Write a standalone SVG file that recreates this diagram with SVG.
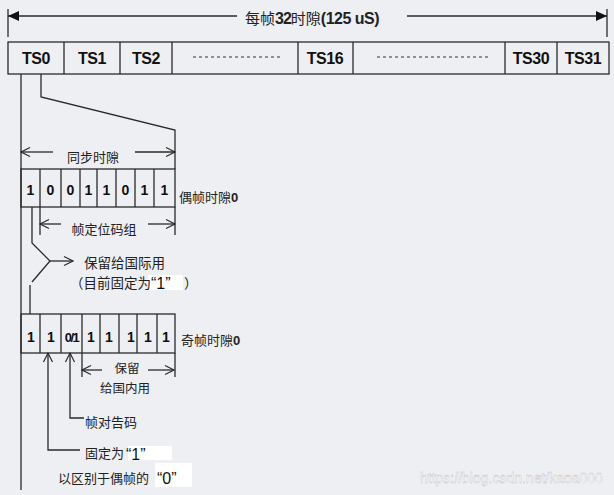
<svg xmlns="http://www.w3.org/2000/svg" width="614" height="495" viewBox="0 0 614 495">
<style>
.bg{fill:#eeeff3}
.ln{stroke:#2a2a2a;stroke-width:1.3;fill:none}
.box{fill:none;stroke:#2a2a2a;stroke-width:1.3}
.ts{font-family:"Liberation Sans",Arial,sans-serif;font-weight:bold;font-size:16px;fill:#111;text-anchor:middle;letter-spacing:-0.4px}
.bit{font-family:"Liberation Sans",Arial,sans-serif;font-weight:bold;font-size:14px;fill:#111;text-anchor:middle}
.cn{font-family:"Noto Sans CJK SC","Liberation Sans",sans-serif;font-size:13px;fill:#222}
.q{font-family:"Liberation Sans",Arial,sans-serif;font-size:16px;fill:#111}
.hl{fill:#ffffff}
.dash{stroke:#333;stroke-width:1;stroke-dasharray:3 3}
</style>
<defs>
<marker id="open" viewBox="-10 -6 11 12" markerWidth="11" markerHeight="12" refX="0" refY="0" orient="auto" markerUnits="userSpaceOnUse" overflow="visible">
<path d="M-9,-4.5 L0,0 L-9,4.5" fill="none" stroke="#2a2a2a" stroke-width="1.2"/>
</marker>
<marker id="solid" viewBox="-11 -6 12 12" markerWidth="12" markerHeight="12" refX="0" refY="0" orient="auto" markerUnits="userSpaceOnUse" overflow="visible">
<path d="M-11,-5 L0,0 L-11,5 Z" fill="#111"/>
</marker>
</defs>
<rect class="bg" x="0" y="0" width="614" height="495"/>

<g id="connectors">
<line class="ln" x1="8" y1="9" x2="8" y2="37"/>
<line class="ln" x1="607" y1="9" x2="607" y2="37"/>
<line class="ln" x1="237" y1="16" x2="8" y2="16" marker-end="url(#solid)"/>
<line class="ln" x1="407" y1="16" x2="607" y2="16" marker-end="url(#solid)"/>
<line class="ln" x1="21" y1="74" x2="21" y2="490"/>
<polyline class="ln" points="41,74 41,97 175,130 175,169"/>
<line class="ln" x1="53" y1="152" x2="21" y2="152" marker-end="url(#open)"/>
<line class="ln" x1="135" y1="152" x2="175" y2="152" marker-end="url(#open)"/>
<line class="ln" x1="40" y1="207" x2="40" y2="235"/>
<line class="ln" x1="175" y1="207" x2="175" y2="235"/>
<line class="ln" x1="61" y1="224" x2="40" y2="224" marker-end="url(#open)"/>
<line class="ln" x1="148" y1="224" x2="175" y2="224" marker-end="url(#open)"/>
<polyline class="ln" points="32,207 32,243 50,261 32,282"/>
<line class="ln" x1="30" y1="285" x2="30" y2="314"/>
<line class="ln" x1="50" y1="261" x2="73" y2="261" marker-end="url(#open)"/>
<polyline class="ln" points="80,450 48,450 48,353" marker-end="url(#open)"/>
<polyline class="ln" points="84,418 70,418 70,353" marker-end="url(#open)"/>
<line class="ln" x1="82" y1="353" x2="82" y2="377"/>
<line class="ln" x1="175" y1="353" x2="175" y2="377"/>
<line class="ln" x1="102" y1="370" x2="82" y2="370" marker-end="url(#open)"/>
<line class="ln" x1="148" y1="370" x2="174" y2="370" marker-end="url(#open)"/>
</g>

<g id="title">
<text x="245" y="24" class="cn" style="font-size:15px">每帧<tspan font-family="Liberation Sans" font-weight="bold" font-size="16" letter-spacing="-1">32</tspan>时隙<tspan font-family="Liberation Sans" font-weight="bold" font-size="16" letter-spacing="-0.5">(125 uS)</tspan></text>
</g>

<g id="frame">
<rect class="box" x="8" y="42" width="601" height="32"/>
<line class="ln" x1="64" y1="42" x2="64" y2="74"/>
<line class="ln" x1="120" y1="42" x2="120" y2="74"/>
<line class="ln" x1="172" y1="42" x2="172" y2="74"/>
<line class="ln" x1="298" y1="42" x2="298" y2="74"/>
<line class="ln" x1="353" y1="42" x2="353" y2="74"/>
<line class="ln" x1="505" y1="42" x2="505" y2="74"/>
<line class="ln" x1="557" y1="42" x2="557" y2="74"/>
<text class="ts" x="36" y="64">TS0</text>
<text class="ts" x="92" y="64">TS1</text>
<text class="ts" x="146" y="64">TS2</text>
<line class="dash" x1="193" y1="57" x2="282" y2="57"/>
<text class="ts" x="325" y="64">TS16</text>
<line class="dash" x1="377" y1="57" x2="489" y2="57"/>
<text class="ts" x="531" y="64">TS30</text>
<text class="ts" x="583" y="64">TS31</text>
</g>

<g id="sync-label">
<text class="cn" x="93" y="162" text-anchor="middle">同步时隙</text>
</g>

<g id="even-frame">
<rect class="box" x="21" y="169" width="154" height="38"/>
<line class="ln" x1="40" y1="169" x2="40" y2="207"/>
<line class="ln" x1="61" y1="169" x2="61" y2="207"/>
<line class="ln" x1="80" y1="169" x2="80" y2="207"/>
<line class="ln" x1="97" y1="169" x2="97" y2="207"/>
<line class="ln" x1="116" y1="169" x2="116" y2="207"/>
<line class="ln" x1="135" y1="169" x2="135" y2="207"/>
<line class="ln" x1="154" y1="169" x2="154" y2="207"/>
<text class="bit" x="30.5" y="195">1</text>
<text class="bit" x="50.5" y="195">0</text>
<text class="bit" x="70.5" y="195">0</text>
<text class="bit" x="88.5" y="195">1</text>
<text class="bit" x="106.5" y="195">1</text>
<text class="bit" x="125.5" y="195">0</text>
<text class="bit" x="144.5" y="195">1</text>
<text class="bit" x="164.5" y="195">1</text>
<text class="cn" x="179" y="202">偶帧时隙<tspan font-family="Liberation Sans" font-weight="bold">0</tspan></text>
</g>

<g id="fas-label">
<text class="cn" x="104" y="234" text-anchor="middle">帧定位码组</text>
</g>

<g id="intl-label">
<text class="cn" x="84" y="268" style="font-size:13.5px">保留给国际用</text>
<rect class="hl" x="148" y="275" width="35" height="15"/>
<text class="cn" x="70" y="288" style="font-size:13.5px">（目前固定为</text>
<text class="q" x="151" y="289">“1”</text>
<text class="cn" x="184" y="288" style="font-size:13.5px">）</text>
</g>

<g id="odd-frame">
<rect class="box" x="21" y="314" width="154" height="39"/>
<line class="ln" x1="40" y1="314" x2="40" y2="353"/>
<line class="ln" x1="61" y1="314" x2="61" y2="353"/>
<line class="ln" x1="82" y1="314" x2="82" y2="353"/>
<line class="ln" x1="100" y1="314" x2="100" y2="353"/>
<line class="ln" x1="119" y1="314" x2="119" y2="353"/>
<line class="ln" x1="137" y1="314" x2="137" y2="353"/>
<line class="ln" x1="157" y1="314" x2="157" y2="353"/>
<text class="bit" x="31" y="342">1</text>
<text class="bit" x="51" y="342">1</text>
<text class="bit" x="71.5" y="342" style="font-size:13px;letter-spacing:-1.5px">0/1</text>
<text class="bit" x="91" y="342">1</text>
<text class="bit" x="109" y="342">1</text>
<text class="bit" x="131" y="342">1</text>
<text class="bit" x="148" y="342">1</text>
<text class="bit" x="166" y="342">1</text>
<text class="cn" x="181" y="345">奇帧时隙<tspan font-family="Liberation Sans" font-weight="bold">0</tspan></text>
</g>

<g id="national-label">
<text class="cn" x="127" y="373" text-anchor="middle" style="font-size:12.5px">保留</text>
<text class="cn" x="125" y="393" text-anchor="middle" style="font-size:12.5px">给国内用</text>
</g>

<g id="alarm-label">
<text class="cn" x="85" y="427">帧对告码</text>
</g>

<g id="fixed-label">
<rect class="hl" x="128" y="446" width="44" height="14"/>
<text class="cn" x="85" y="458">固定为</text>
<text class="q" x="126" y="460">“1”</text>
<rect class="hl" x="155" y="463" width="37" height="24"/>
<text class="cn" x="58" y="483">以区别于偶帧的</text>
<text class="q" x="157" y="484">“0”</text>
</g>

<g id="watermark">
<text x="420" y="483" font-family="Liberation Sans, Arial, sans-serif" font-size="14" fill="#ffffff" stroke="#b8b8bc" stroke-width="0.35">https://blog.csdn.net/kaoa000</text>
</g>
</svg>
